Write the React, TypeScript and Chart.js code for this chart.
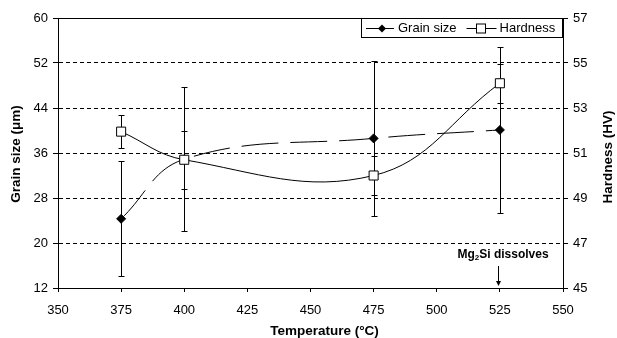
import React, { useEffect, useRef } from "react";
import { Chart, registerables } from "chart.js";

Chart.register(...registerables);

// ---- data ----
const temperatures = [375, 400, 475, 525];
const grainSize = [24.3, 34.9, 38.6, 40.1];
const grainSizeErr = [10.2, 12.8, 13.8, 14.8];
const hardness = [51.95, 50.7, 50.0, 54.1];
const hardnessErr = [0.75, 1.28, 0.85, 0.86];

const seriesNames = ["Grain size", "Hardness"];

const xMin = 350;
const xMax = 550;
const xStep = 25;
const grainMin = 12;
const grainMax = 60;
const grainStep = 8;
const hardMin = 45;
const hardMax = 57;
const hardStep = 2;

const xTitle = "Temperature (°C)";
const yLeftTitle = "Grain size (μm)";
const yRightTitle = "Hardness (HV)";

const annotationTemp = 525;
const annotationParts = ["Mg", "2", "Si dissolves"];

const FONT = '"Liberation Sans", Arial, Helvetica, sans-serif';

const errorBarsPlugin = {
  id: "errorBars",
  beforeDatasetsDraw(chart: any) {
    const ctx = chart.ctx;
    const xs = chart.scales.x;
    chart.data.datasets.forEach((ds: any) => {
      const ys = chart.scales[ds.yAxisID];
      const errs: number[] = ds.errors;
      ctx.save();
      ctx.strokeStyle = "#000";
      ctx.lineWidth = 1;
      ds.data.forEach((pt: any, j: number) => {
        const x = Math.round(xs.getPixelForValue(pt.x)) + 0.5;
        const yT = Math.round(ys.getPixelForValue(pt.y + errs[j])) + 0.5;
        const yB = Math.round(ys.getPixelForValue(pt.y - errs[j])) + 0.5;
        ctx.beginPath();
        ctx.moveTo(x, yT);
        ctx.lineTo(x, yB);
        ctx.moveTo(x - 3, yT);
        ctx.lineTo(x + 3, yT);
        ctx.moveTo(x - 3, yB);
        ctx.lineTo(x + 3, yB);
        ctx.stroke();
      });
      ctx.restore();
    });
  },
};

const decorPlugin = {
  id: "decor",
  afterDraw(chart: any) {
    const ctx = chart.ctx;
    const ca = chart.chartArea;
    const xs = chart.scales.x;
    ctx.save();
    // top frame line
    ctx.strokeStyle = "#000";
    ctx.lineWidth = 1;
    ctx.beginPath();
    ctx.moveTo(ca.left, Math.round(ca.top) + 0.5);
    ctx.lineTo(ca.right, Math.round(ca.top) + 0.5);
    ctx.stroke();

    // axis titles
    ctx.fillStyle = "#000";
    ctx.font = `bold 13.5px ${FONT}`;
    ctx.textAlign = "center";
    ctx.textBaseline = "middle";
    ctx.save();
    ctx.translate(16.5, (ca.top + ca.bottom) / 2 + 1);
    ctx.rotate(-Math.PI / 2);
    ctx.fillText(yLeftTitle, 0, 0);
    ctx.restore();
    ctx.save();
    ctx.translate(608, (ca.top + ca.bottom) / 2 + 4);
    ctx.rotate(-Math.PI / 2);
    ctx.fillText(yRightTitle, 0, 0);
    ctx.restore();
    ctx.textBaseline = "alphabetic";
    ctx.fillText(xTitle, (ca.left + ca.right) / 2 + 14, 335);

    // legend box
    ctx.font = `13px ${FONT}`;
    const w1 = ctx.measureText(seriesNames[0]).width;
    const w2 = ctx.measureText(seriesNames[1]).width;
    const boxW = 5 + 28 + 4 + w1 + 10 + 30 + 3 + w2 + 7;
    const R = Math.round(ca.right) - 1;
    const L = Math.round(R - boxW);
    const T = Math.round(ca.top);
    const B = T + 19;
    ctx.fillStyle = "#fff";
    ctx.fillRect(L, T, R - L, B - T);
    ctx.strokeStyle = "#000";
    ctx.strokeRect(L + 0.5, T + 0.5, R - L, B - T);
    const cy = T + 10.5;
    let x = L + 5;
    // item 1: line + diamond
    ctx.beginPath();
    ctx.moveTo(x, cy);
    ctx.lineTo(x + 28, cy);
    ctx.stroke();
    ctx.fillStyle = "#000";
    ctx.beginPath();
    const dx = x + 16;
    ctx.moveTo(dx, cy - 4);
    ctx.lineTo(dx + 4, cy);
    ctx.lineTo(dx, cy + 4);
    ctx.lineTo(dx - 4, cy);
    ctx.closePath();
    ctx.fill();
    x += 28 + 4;
    ctx.textAlign = "left";
    ctx.textBaseline = "middle";
    ctx.fillText(seriesNames[0], x, cy);
    x += w1 + 10;
    // item 2: line + square
    ctx.beginPath();
    ctx.moveTo(x, cy);
    ctx.lineTo(x + 30, cy);
    ctx.stroke();
    ctx.fillStyle = "#fff";
    const sx = Math.round(x + 13) + 0.5;
    ctx.fillRect(sx - 4, cy - 4.5, 9, 9);
    ctx.strokeRect(sx - 4, cy - 4.5, 9, 9);
    x += 30 + 3;
    ctx.fillStyle = "#000";
    ctx.fillText(seriesNames[1], x, cy);

    // annotation
    const ax = Math.round(xs.getPixelForValue(annotationTemp));
    ctx.font = `bold 12px ${FONT}`;
    ctx.textBaseline = "alphabetic";
    const p0 = ctx.measureText(annotationParts[0]).width;
    const p2 = ctx.measureText(annotationParts[2]).width;
    ctx.font = `bold 8px ${FONT}`;
    const p1 = ctx.measureText(annotationParts[1]).width;
    const total = p0 + p1 + p2;
    let tx = ax + 3 - total / 2;
    const by = 257.5;
    ctx.font = `bold 12px ${FONT}`;
    ctx.fillText(annotationParts[0], tx, by);
    tx += p0;
    ctx.font = `bold 8px ${FONT}`;
    ctx.fillText(annotationParts[1], tx, by + 2);
    tx += p1;
    ctx.font = `bold 12px ${FONT}`;
    ctx.fillText(annotationParts[2], tx, by);
    // arrow
    const arx = ax - 1.5;
    ctx.beginPath();
    ctx.moveTo(arx, 266);
    ctx.lineTo(arx, ca.bottom - 6);
    ctx.stroke();
    ctx.beginPath();
    ctx.moveTo(arx - 2.5, ca.bottom - 7);
    ctx.lineTo(arx + 2.5, ca.bottom - 7);
    ctx.lineTo(arx, ca.bottom - 2);
    ctx.closePath();
    ctx.fill();
    ctx.restore();
  },
};

export default function App() {
  const ref = useRef<HTMLCanvasElement>(null);
  useEffect(() => {
    Chart.defaults.font.family = FONT;
    Chart.defaults.color = "#000";
    const chart = new Chart(ref.current!, {
      type: "line",
      data: {
        datasets: [
          {
            label: seriesNames[0],
            data: temperatures.map((t, i) => ({ x: t, y: grainSize[i] })),
            errors: grainSizeErr,
            yAxisID: "y",
            borderColor: "#000",
            borderWidth: 1,
            borderDash: [37, 12],
            tension: 0.4,
            pointStyle: "rectRot",
            pointRadius: 4.5,
            pointBackgroundColor: "#000",
            pointBorderColor: "#000",
            order: 2,
          } as any,
          {
            label: seriesNames[1],
            data: temperatures.map((t, i) => ({ x: t, y: hardness[i] })),
            errors: hardnessErr,
            yAxisID: "y2",
            borderColor: "#000",
            borderWidth: 1,
            tension: 0.4,
            pointStyle: "rect",
            pointRadius: 6.4,
            pointBackgroundColor: "#fff",
            pointBorderColor: "#000",
            pointBorderWidth: 1,
            order: 1,
          } as any,
        ],
      },
      options: {
        responsive: false,
        devicePixelRatio: 1,
        animation: false,
        layout: { padding: { top: 18, left: 0, right: 0, bottom: 0 } },
        plugins: { legend: { display: false }, tooltip: { enabled: false } },
        scales: {
          x: {
            type: "linear",
            min: xMin,
            max: xMax,
            ticks: { stepSize: xStep, font: { size: 13 }, padding: 11, color: "#000" },
            grid: { drawOnChartArea: false, tickLength: 4, tickColor: "#000", color: "#000" },
            border: { color: "#000", width: 1 },
            afterFit: (s: any) => {
              s.height = 50;
            },
          },
          y: {
            type: "linear",
            position: "left",
            min: grainMin,
            max: grainMax,
            ticks: { stepSize: grainStep, font: { size: 13 }, padding: 5, color: "#000" },
            grid: {
              color: (c: any) =>
                c.tick && (c.tick.value === grainMin || c.tick.value === grainMax) ? "rgba(0,0,0,0)" : "#000",
              tickColor: "#000",
              tickLength: 5,
              tickBorderDash: [],
            },
            border: { color: "#000", width: 1, dash: [4, 3] },
            afterFit: (s: any) => {
              s.width = 58;
            },
          },
          y2: {
            type: "linear",
            position: "right",
            min: hardMin,
            max: hardMax,
            ticks: { stepSize: hardStep, font: { size: 13 }, padding: 5, color: "#000" },
            grid: { drawOnChartArea: false, tickLength: 5, tickColor: "#000", color: "#000" },
            border: { color: "#000", width: 1 },
            afterFit: (s: any) => {
              s.width = 54;
            },
          },
        },
      } as any,
      plugins: [errorBarsPlugin, decorPlugin],
    });
    return () => chart.destroy();
  }, []);
  return (
    <div style={{ position: "absolute", left: 0, top: 0, width: 617, height: 338, background: "#fff" }}>
      <canvas ref={ref} width={617} height={338} style={{ display: "block" }} />
    </div>
  );
}
